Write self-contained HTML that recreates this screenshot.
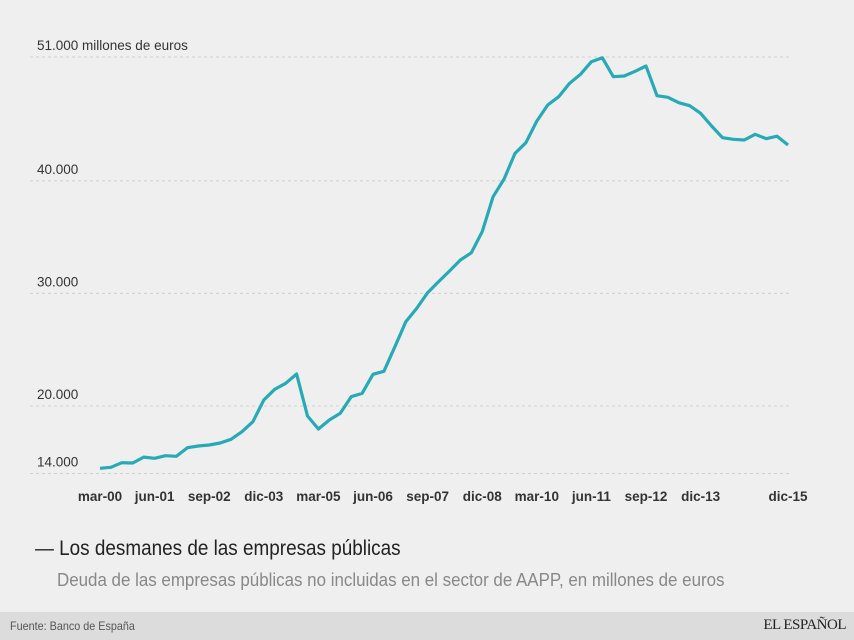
<!DOCTYPE html>
<html><head><meta charset="utf-8"><style>
html,body{margin:0;padding:0;background:#efefef;width:854px;height:640px;overflow:hidden}
body{font-family:"Liberation Sans Narrow","Liberation Sans",sans-serif;position:relative}
.t{position:absolute;white-space:nowrap;transform-origin:0 0}
</style></head><body>
<svg id="chart" width="854" height="612" style="position:absolute;left:0;top:0"></svg>
<div class="t" style="left:35px;top:537px;font-size:21px;color:#222;transform:scaleX(0.9)">— Los desmanes de las empresas públicas</div>
<div class="t" style="left:57px;top:570px;font-size:18px;color:#888;transform:scaleX(0.94)">Deuda de las empresas públicas no incluidas en el sector de AAPP, en millones de euros</div>
<div style="position:absolute;left:0;top:612px;width:854px;height:28px;background:#dcdcdc">
<div class="t" style="left:10px;top:7px;font-size:12px;color:#555;transform:scaleX(0.9)">Fuente: Banco de España</div>
<div class="t" style="right:8px;top:5px;font-size:15px;color:#222;font-family:'Liberation Serif',serif;letter-spacing:-0.5px">EL ESPAÑOL</div>
</div>
<script>
const yTicks=[14000,20000,30000,40000,51000];
const yTickLabels=["14.000","20.000","30.000","40.000","51.000 millones de euros"];
const xLabelIdx=[0,5,10,15,20,25,30,35,40,45,50,55,63];
const xLabels=["mar-00","jun-01","sep-02","dic-03","mar-05","jun-06","sep-07","dic-08","mar-10","jun-11","sep-12","dic-13","dic-15"];
const values=[14460,14550,14960,14930,15460,15350,15580,15530,16290,16440,16530,16710,17040,17710,18600,20530,21480,22010,22840,19110,17950,18750,19350,20820,21120,22810,23080,25260,27480,28670,30060,31040,31990,32970,33610,35480,38590,40160,42440,43390,45310,46740,47470,48660,49460,50580,50940,49250,49310,49730,50200,47560,47420,46940,46670,46000,44870,43830,43690,43630,44130,43740,43960,43180];
const NS="http://www.w3.org/2000/svg";
const svg=document.getElementById('chart');
const x=i=>100+i*(688/63);
const y=v=>473.5-(v-14000)*(416.5/37000);
yTicks.forEach((t,k)=>{
  const l=document.createElementNS(NS,'line');
  
  
  l.setAttribute('x1',30);l.setAttribute('x2',792);
  l.setAttribute('y1',y(t));l.setAttribute('y2',y(t));
  l.setAttribute('stroke','#cfcfcf');l.setAttribute('stroke-dasharray','3,3');
  svg.appendChild(l);
  const tx=document.createElementNS(NS,'text');
  
  
  tx.setAttribute('x',37);tx.setAttribute('y',y(t)-7);
  tx.setAttribute('font-size','13.5');tx.setAttribute('fill','#333');
  tx.textContent=yTickLabels[k];
  svg.appendChild(tx);
});
xLabelIdx.forEach((i,k)=>{
  const tx=document.createElementNS(NS,'text');
  
  
  tx.setAttribute('x',x(i));tx.setAttribute('y',501);
  tx.setAttribute('text-anchor','middle');tx.setAttribute('font-size','13.5');
  tx.setAttribute('font-weight','bold');tx.setAttribute('fill','#333');
  tx.textContent=xLabels[k];
  svg.appendChild(tx);
});
const p=document.createElementNS(NS,'polyline');


p.setAttribute('points',values.map((v,i)=>x(i).toFixed(1)+','+y(v).toFixed(1)).join(' '));
p.setAttribute('fill','none');p.setAttribute('stroke','#27aab5');
p.setAttribute('stroke-width','3.2');p.setAttribute('stroke-linejoin','round');
svg.appendChild(p);
</script>
</body></html>
